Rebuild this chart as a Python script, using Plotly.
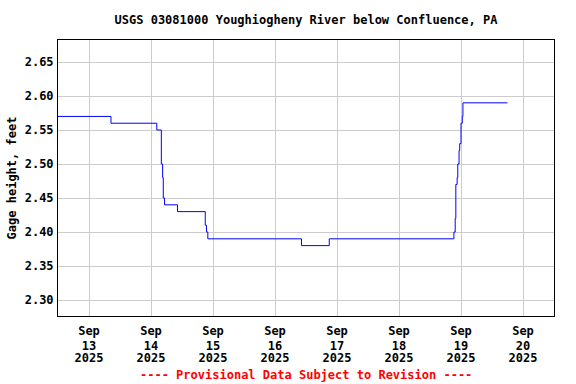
import plotly.graph_objects as go

# ---- data ----
times = [
    "2025-09-12 12:00", "2025-09-13 08:30", "2025-09-14 02:15", "2025-09-14 04:00",
    "2025-09-14 04:30", "2025-09-14 04:45", "2025-09-14 05:15", "2025-09-14 10:15",
    "2025-09-14 21:00", "2025-09-14 21:30", "2025-09-14 22:00", "2025-09-16 10:15",
    "2025-09-16 21:00", "2025-09-18 21:15", "2025-09-18 21:45", "2025-09-18 22:00",
    "2025-09-18 22:30", "2025-09-18 22:45", "2025-09-18 23:15", "2025-09-18 23:30",
    "2025-09-19 00:00", "2025-09-19 00:30", "2025-09-19 00:45", "2025-09-19 18:00",
]
gage_ft = [
    2.57, 2.56, 2.55, 2.50,
    2.48, 2.45, 2.44, 2.43,
    2.41, 2.40, 2.39, 2.38,
    2.39, 2.40, 2.42, 2.47,
    2.48, 2.50, 2.52, 2.53,
    2.56, 2.57, 2.59, 2.59,
]
tick_dates = ["2025-09-13", "2025-09-14", "2025-09-15", "2025-09-16",
              "2025-09-17", "2025-09-18", "2025-09-19", "2025-09-20"]
tick_month = ["Sep"] * len(tick_dates)
tick_day = [d[8:10] for d in tick_dates]
tick_year = [d[0:4] for d in tick_dates]
y_ticks = [2.30, 2.35, 2.40, 2.45, 2.50, 2.55, 2.60, 2.65]

FONT = "DejaVu Sans Mono"
BOLD = dict(family=FONT, size=12, color="black", weight="bold")
X_RANGE = ["2025-09-12 12:00", "2025-09-20 12:00"]

fig = go.Figure()
fig.add_trace(go.Scatter(
    x=times, y=gage_ft, mode="lines",
    line=dict(color="#0000ff", width=1, shape="hv"),
    showlegend=False, hoverinfo="x+y",
))

common_x = dict(type="date", range=X_RANGE, tickmode="array", tickvals=tick_dates,
                ticks="", zeroline=False, tickfont=BOLD)

fig.update_layout(
    width=576, height=384,
    margin=dict(l=58, r=22, t=40, b=68, autoexpand=False),
    paper_bgcolor="white", plot_bgcolor="white",
    font=BOLD,
    title=dict(text="USGS 03081000 Youghiogheny River below Confluence, PA",
               x=0.5, xanchor="center", xref="paper",
               y=1 - 20 / 384, yanchor="middle", yref="container",
               font=BOLD),
    xaxis=dict(
        **common_x, ticktext=tick_month,
        showgrid=True, gridcolor="#cccccc", gridwidth=1,
        showline=True, linecolor="black", linewidth=1, mirror=True,
        ticklabelstandoff=4,
    ),
    xaxis2=dict(
        **common_x, ticktext=tick_day, overlaying="x", matches="x",
        anchor="y", side="bottom", showgrid=False, showline=False,
        ticklabelstandoff=21,
    ),
    xaxis3=dict(
        **common_x, ticktext=tick_year, overlaying="x", matches="x",
        anchor="y", side="bottom", showgrid=False, showline=False,
        ticklabelstandoff=33,
    ),
    yaxis=dict(
        range=[2.2765, 2.6824],
        tickmode="array", tickvals=y_ticks,
        ticktext=["%.2f" % v for v in y_ticks],
        showgrid=True, gridcolor="#cccccc", gridwidth=1,
        showline=True, linecolor="black", linewidth=1, mirror=True,
        ticks="", ticklabelstandoff=1, zeroline=False,
        tickfont=BOLD,
        title=dict(text="Gage height, feet", standoff=5, font=BOLD),
    ),
    annotations=[dict(
        text="---- Provisional Data Subject to Revision ----",
        xref="paper", yref="paper", x=0.5, y=(316 - 375) / 276,
        xanchor="center", yanchor="middle", showarrow=False,
        font=dict(family=FONT, size=12, color="red", weight="bold"),
    )],
)

# invisible helper traces so the overlaying date-label axes are drawn
fig.add_trace(go.Scatter(x=X_RANGE, y=[None, None], xaxis="x2", yaxis="y",
                         showlegend=False, hoverinfo="skip"))
fig.add_trace(go.Scatter(x=X_RANGE, y=[None, None], xaxis="x3", yaxis="y",
                         showlegend=False, hoverinfo="skip"))

fig.write_html("out.html", config={"displayModeBar": False},
               post_script="document.body.style.margin='0';document.body.style.overflow='hidden';")
